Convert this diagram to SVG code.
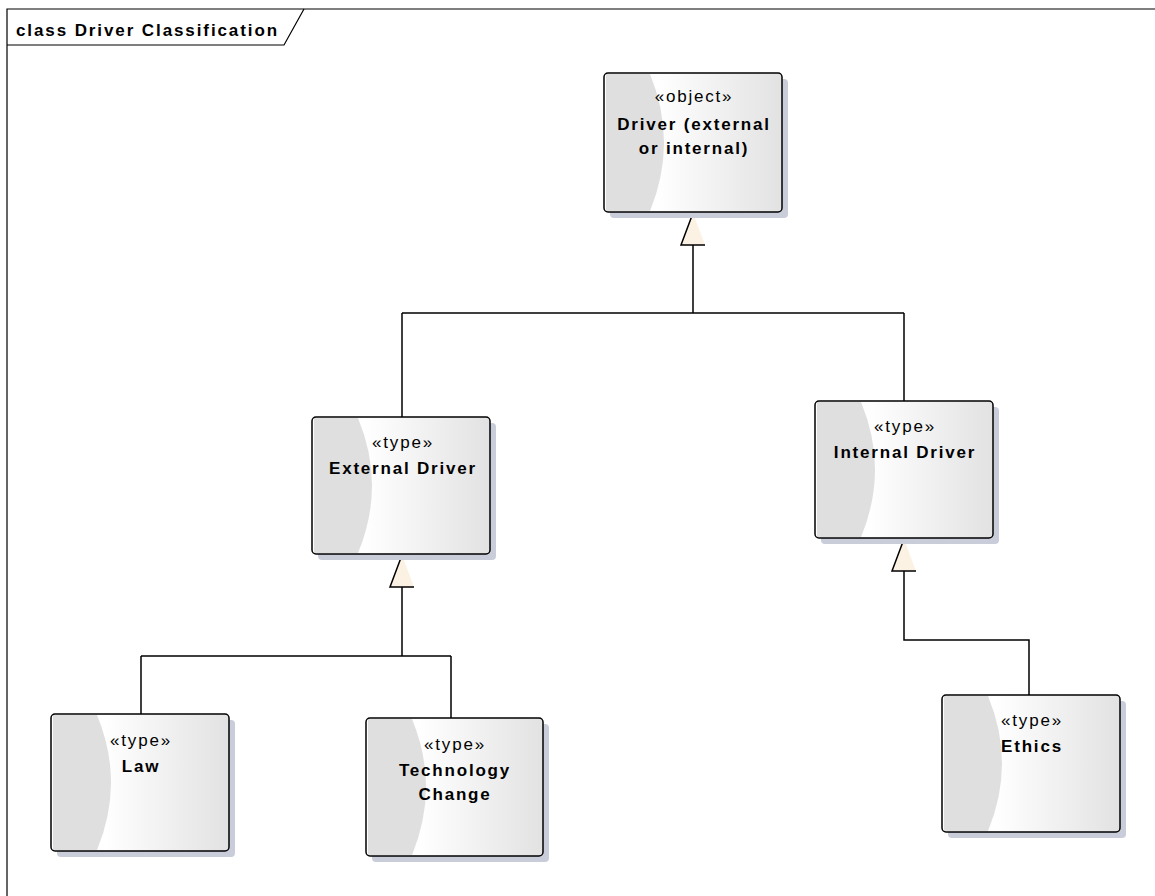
<svg xmlns="http://www.w3.org/2000/svg" width="1155" height="896" viewBox="0 0 1155 896">
<defs>
<linearGradient id="g" x1="0" y1="0" x2="1" y2="0">
<stop offset="0.3" stop-color="#ffffff"/>
<stop offset="1" stop-color="#e2e2e2"/>
</linearGradient>
<style>
.frame{fill:none;stroke:#000;stroke-width:1.2}
.title{font-family:"Liberation Sans",Arial,sans-serif;font-size:17px;font-weight:bold;letter-spacing:1.9px;fill:#000}
.shadow{fill:#c9cdd9}
.body{fill:url(#g)}
.cres{fill:#dfdfdf}
.border{fill:none;stroke:#000;stroke-width:1.5}
.st{font-family:"Liberation Sans",Arial,sans-serif;font-size:17px;letter-spacing:1.8px;text-anchor:middle;fill:#000}
.nm{font-family:"Liberation Sans",Arial,sans-serif;font-size:17px;font-weight:bold;letter-spacing:1.8px;text-anchor:middle;fill:#000}
.line{fill:none;stroke:#000;stroke-width:1.5}
.tri{fill:#fcf2e4;stroke:none}
.triedge{fill:none;stroke:#000;stroke-width:1.5;stroke-linejoin:miter}
</style>
</defs>
<rect x="0" y="0" width="1155" height="896" fill="#fff"/>
<g id="frame">
<path class="frame" d="M7,896 V9 H1155"/>
<path class="frame" d="M7,45 H284 L304,9"/>
<text class="title" x="16" y="36">class Driver Classification</text>
</g>
<g id="connectors">
<path class="line" d="M693,245 V313 M402,313 H904 M402,313 V417 M904,313 V401"/>
<polygon class="tri" points="693,213 681,245 705,245"/>
<polyline class="triedge" points="705,245 681,245 693,213"/>
<path class="line" d="M402,587 V656 M141,656 H451 M141,656 V714 M451,656 V718"/>
<polygon class="tri" points="402,555 390,587 414,587"/>
<polyline class="triedge" points="414,587 390,587 402,555"/>
<path class="line" d="M904,571 V640 H1029 V695"/>
<polygon class="tri" points="904,539 892,571 916,571"/>
<polyline class="triedge" points="916,571 892,571 904,539"/>
</g>
<g id="driver">
<rect class="shadow" x="610" y="79" width="178" height="139" rx="4"/>
<rect class="body" x="604" y="73" width="178" height="139" rx="4"/>
<path class="cres" d="M606,74 H650 Q678,142.5 650,211 H606 Z"/>
<rect class="border" x="604" y="73" width="178" height="139" rx="4"/>
<text class="st" x="694" y="102">«object»</text>
<text class="nm" x="694" y="130">Driver (external</text>
<text class="nm" x="694" y="154">or internal)</text>
</g>
<g id="external-driver">
<rect class="shadow" x="318" y="423" width="178" height="137" rx="4"/>
<rect class="body" x="312" y="417" width="178" height="137" rx="4"/>
<path class="cres" d="M314,418 H358 Q386,485.5 358,553 H314 Z"/>
<rect class="border" x="312" y="417" width="178" height="137" rx="4"/>
<text class="st" x="403" y="448">«type»</text>
<text class="nm" x="403" y="474">External Driver</text>
</g>
<g id="internal-driver">
<rect class="shadow" x="821" y="407" width="178" height="137" rx="4"/>
<rect class="body" x="815" y="401" width="178" height="137" rx="4"/>
<path class="cres" d="M817,402 H861 Q889,469.5 861,537 H817 Z"/>
<rect class="border" x="815" y="401" width="178" height="137" rx="4"/>
<text class="st" x="905" y="432">«type»</text>
<text class="nm" x="905" y="458">Internal Driver</text>
</g>
<g id="law">
<rect class="shadow" x="57" y="720" width="178" height="137" rx="4"/>
<rect class="body" x="51" y="714" width="178" height="137" rx="4"/>
<path class="cres" d="M53,715 H97 Q125,782.5 97,850 H53 Z"/>
<rect class="border" x="51" y="714" width="178" height="137" rx="4"/>
<text class="st" x="141" y="746">«type»</text>
<text class="nm" x="141" y="772">Law</text>
</g>
<g id="technology-change">
<rect class="shadow" x="372" y="724" width="177" height="138" rx="4"/>
<rect class="body" x="366" y="718" width="177" height="138" rx="4"/>
<path class="cres" d="M368,719 H412 Q440,787 412,855 H368 Z"/>
<rect class="border" x="366" y="718" width="177" height="138" rx="4"/>
<text class="st" x="455" y="750">«type»</text>
<text class="nm" x="455" y="776">Technology</text>
<text class="nm" x="455" y="800">Change</text>
</g>
<g id="ethics">
<rect class="shadow" x="948" y="701" width="178" height="137" rx="4"/>
<rect class="body" x="942" y="695" width="178" height="137" rx="4"/>
<path class="cres" d="M944,696 H988 Q1016,763.5 988,831 H944 Z"/>
<rect class="border" x="942" y="695" width="178" height="137" rx="4"/>
<text class="st" x="1032" y="726">«type»</text>
<text class="nm" x="1032" y="752">Ethics</text>
</g>
</svg>
